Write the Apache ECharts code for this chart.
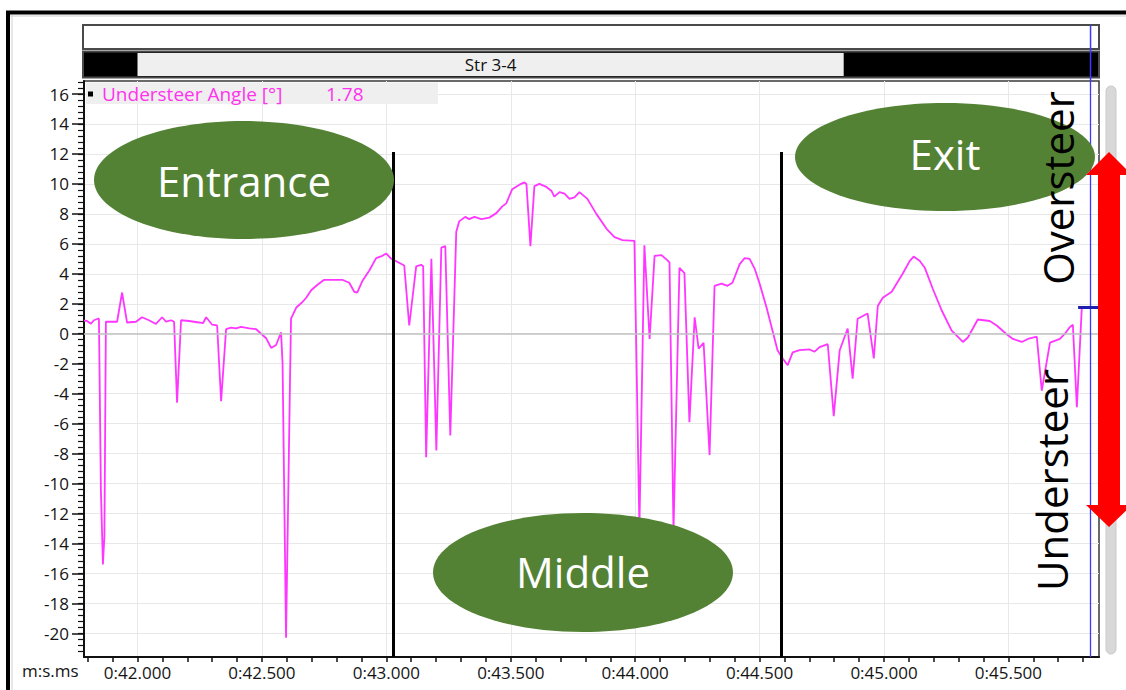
<!DOCTYPE html>
<html>
<head>
<meta charset="utf-8">
<title>Understeer Angle</title>
<script src="https://cdn.jsdelivr.net/npm/echarts@6/dist/echarts.min.js"></script>
<style>
  html, body { margin: 0; padding: 0; background: #fff; }
  #chart { width: 1126px; height: 690px; }
</style>
</head>
<body>
<div id="chart"></div>
<script>
// Lap time in seconds (m:s.ms axis) and logged understeer angle in degrees
const times = [
  41.785, 41.797, 41.813, 41.825, 41.841, 41.845, 41.853, 41.861, 41.867, 41.873,
  41.893, 41.918, 41.938, 41.958, 41.994, 42.018, 42.046, 42.074, 42.099, 42.115,
  42.135, 42.147, 42.159, 42.175, 42.207, 42.247, 42.263, 42.276, 42.300, 42.320,
  42.336, 42.356, 42.376, 42.396, 42.416, 42.449, 42.477, 42.497, 42.517, 42.537,
  42.557, 42.577, 42.583, 42.597, 42.613, 42.617, 42.638, 42.662, 42.678, 42.698,
  42.722, 42.750, 42.790, 42.823, 42.851, 42.871, 42.883, 42.903, 42.931, 42.959,
  42.984, 43.000, 43.020, 43.032, 43.072, 43.092, 43.120, 43.140, 43.148, 43.160,
  43.181, 43.201, 43.221, 43.237, 43.257, 43.281, 43.293, 43.317, 43.333, 43.354,
  43.382, 43.414, 43.442, 43.466, 43.482, 43.506, 43.535, 43.555, 43.563, 43.579,
  43.595, 43.615, 43.643, 43.663, 43.675, 43.696, 43.716, 43.736, 43.756, 43.776,
  43.808, 43.844, 43.885, 43.917, 43.949, 43.997, 44.017, 44.037, 44.058, 44.078,
  44.106, 44.130, 44.138, 44.154, 44.178, 44.198, 44.218, 44.239, 44.255, 44.275,
  44.299, 44.319, 44.347, 44.371, 44.391, 44.420, 44.440, 44.460, 44.480, 44.500,
  44.528, 44.552, 44.572, 44.593, 44.613, 44.633, 44.661, 44.701, 44.721, 44.741,
  44.774, 44.798, 44.822, 44.854, 44.874, 44.894, 44.934, 44.959, 44.975, 44.995,
  45.031, 45.051, 45.075, 45.103, 45.119, 45.144, 45.164, 45.196, 45.232, 45.272,
  45.317, 45.337, 45.377, 45.425, 45.453, 45.494, 45.518, 45.554, 45.578, 45.614,
  45.634, 45.667, 45.707, 45.727, 45.747, 45.759, 45.775, 45.795
];
const angles = [
  0.87, 0.85, 0.67, 0.90, 1.00, 1.00, -10.5, -15.4, -13.5, 0.80,
  0.80, 0.80, 2.75, 0.75, 0.80, 1.10, 0.90, 0.65, 1.10, 0.80,
  0.90, 0.80, -4.60, 0.90, 0.85, 0.75, 0.70, 1.10, 0.60, 0.55,
  -4.50, 0.30, 0.40, 0.35, 0.45, 0.35, 0.30, 0.00, -0.30, -0.95,
  -0.75, 0.10, -2.00, -20.3, -3.00, 1.00, 1.75, 2.10, 2.40, 2.90,
  3.25, 3.60, 3.60, 3.60, 3.40, 2.80, 2.75, 3.50, 4.20, 5.05,
  5.20, 5.35, 5.00, 4.90, 4.55, 0.55, 4.50, 4.60, 4.50, -8.25,
  5.00, -7.80, 5.75, 5.85, -6.80, 6.80, 7.50, 7.80, 7.65, 7.80,
  7.65, 7.75, 8.05, 8.50, 8.70, 9.65, 9.95, 10.10, 10.00, 5.85,
  9.85, 10.00, 9.80, 9.55, 9.15, 9.45, 9.35, 9.00, 9.10, 9.45,
  9.00, 8.00, 7.00, 6.45, 6.25, 6.20, -13.0, 5.90, -0.35, 5.20,
  5.25, 4.90, 4.75, -13.2, 4.40, 4.05, -5.90, 1.10, -1.00, -0.60,
  -8.10, 3.20, 3.35, 3.20, 3.40, 4.65, 5.05, 5.00, 4.35, 3.35,
  1.75, 0.20, -1.10, -1.65, -2.10, -1.25, -1.10, -1.05, -1.20, -0.90,
  -0.70, -5.50, -1.10, 0.35, -3.00, 1.00, 1.35, -1.65, 1.85, 2.40,
  2.80, 3.35, 4.00, 4.85, 5.15, 4.85, 4.40, 3.00, 1.55, 0.20,
  -0.55, -0.25, 0.95, 0.85, 0.55, -0.05, -0.35, -0.55, -0.35, -0.20,
  -3.80, -0.60, -0.35, 0.00, 0.45, 0.60, -4.90, 1.78
];

// Axis tick labels
const timeLabels = [42.0, 42.5, 43.0, 43.5, 44.0, 44.5, 45.0, 45.5];
const angleLabels = [-20, -18, -16, -14, -12, -10, -8, -6, -4, -2, 0, 2, 4, 6, 8, 10, 12, 14, 16];

// Visible window of the trace
const timeRange = [41.785, 45.864];
const angleRange = [-21.58, 16.87];

// Corner phase boundaries, sector span, cursor read-out
const phaseNames = ['Entrance', 'Middle', 'Exit'];
const phaseBounds = [43.028, 44.589];
const phaseLineTop = 12.13;
const sectorName = 'Str 3-4';
const sectorSpan = [42.0, 44.838];
const cursorTime = 45.830;
const cursorValue = 1.78;
const channelName = 'Understeer Angle [°]';
const steerLabels = ['Oversteer', 'Understeer'];

// Minor tick positions: every 0.1 s and every 0.4°
const timeMinor = [];
for (let k = 418; k <= 458; k++) timeMinor.push(k / 10);
const angleMinor = [];
for (let k = -54; k <= 42; k++) angleMinor.push(Math.round(k * 4) / 10);

const FONT = '"Open Sans", "Noto Sans", sans-serif';
const TRACE = '#ff36ff';
const GREEN = '#548235';

const chart = echarts.init(document.getElementById('chart'), null, { renderer: 'svg' });

const axisText = { color: '#141414', fontFamily: FONT, fontSize: 17 };

const option = {
  animation: false,
  backgroundColor: '#ffffff',
  grid: {
    left: 84, right: 27, top: 81, bottom: 33,
    show: true, backgroundColor: '#ffffff',
    borderColor: '#3a3a3a', borderWidth: 1.5,
    outerBoundsMode: 'none'
  },
  xAxis: [
    {
      type: 'value', position: 'bottom', min: timeRange[0], max: timeRange[1],
      axisLine: { show: true, onZero: false, lineStyle: { color: '#111', width: 2 } },
      axisTick: { show: false, customValues: timeLabels },
      axisLabel: Object.assign({ customValues: timeLabels, margin: 7,
        formatter: v => '0:' + v.toFixed(3) }, axisText),
      splitLine: { show: true, lineStyle: { color: '#e8e8e8', width: 1 } }
    },
    {
      type: 'value', position: 'bottom', offset: 0, min: timeRange[0], max: timeRange[1],
      axisLine: { show: false, onZero: false },
      axisTick: { show: true, customValues: timeMinor, length: 5, lineStyle: { color: '#111', width: 1.5 } },
      axisLabel: { show: false },
      splitLine: { show: false }
    }
  ],
  yAxis: [
    {
      type: 'value', position: 'left', min: angleRange[0], max: angleRange[1],
      axisLine: { show: true, onZero: false, lineStyle: { color: '#111', width: 2 } },
      axisTick: { show: true, customValues: angleLabels, length: 12, lineStyle: { color: '#111', width: 1.5 } },
      axisLabel: Object.assign({ customValues: angleLabels, margin: 15,
        formatter: v => String(v) }, axisText),
      splitLine: { show: true, lineStyle: { color: '#e8e8e8', width: 1 } }
    },
    {
      type: 'value', position: 'left', offset: 0, min: angleRange[0], max: angleRange[1],
      axisLine: { show: false, onZero: false },
      axisTick: { show: true, customValues: angleMinor, length: 6, lineStyle: { color: '#111', width: 1.2 } },
      axisLabel: { show: false },
      splitLine: { show: false }
    }
  ],
  series: [
    {
      // zero reference line under the trace
      type: 'line', data: [], z: 1, silent: true,
      markLine: {
        silent: true, symbol: ['none', 'none'], label: { show: false },
        lineStyle: { color: '#c2c2c2', width: 1.5, type: 'solid' },
        data: [{ yAxis: 0 }]
      }
    },
    {
      name: channelName, type: 'line', z: 3,
      data: times.map((t, i) => [t, angles[i]]),
      showSymbol: false, symbol: 'none',
      lineStyle: { color: TRACE, width: 1.8 },
      itemStyle: { color: TRACE }
    },
    {
      // phase boundaries and cursor
      type: 'line', data: [], z: 20, silent: true,
      markLine: {
        silent: true, symbol: ['none', 'none'], label: { show: false },
        data: [
          ...phaseBounds.map(b => [
            { coord: [b, phaseLineTop], lineStyle: { color: '#000', width: 3, type: 'solid' } },
            { coord: [b, angleRange[0]] }
          ]),
          [
            { coord: [cursorTime, angleRange[1]], lineStyle: { color: '#3a3aff', width: 1.3, type: 'solid' } },
            { coord: [cursorTime, angleRange[0]] }
          ],
          [
            { coord: [cursorTime - 0.05, cursorValue], lineStyle: { color: '#1e1eb0', width: 3, type: 'solid' } },
            { coord: [timeRange[1], cursorValue] }
          ]
        ]
      }
    }
  ]
};

chart.setOption(option);

const px = t => chart.convertToPixel({ xAxisIndex: 0 }, t);
const sx0 = px(sectorSpan[0]);
const sx1 = px(sectorSpan[1]);
const cx = px(cursorTime);

function phaseBubble(name, cxp, cyp, rx, ry, ty) {
  return [
    { type: 'ellipse', z: 10, silent: true, shape: { cx: cxp, cy: cyp, rx: rx, ry: ry },
      style: { fill: GREEN } },
    { type: 'text', z: 11, silent: true,
      style: { text: name, x: cxp, y: ty, fill: '#ffffff', font: '42px ' + FONT,
        textAlign: 'center', textVerticalAlign: 'middle' } }
  ];
}

const graphics = [
  // outer window frame
  { type: 'line', z: 40, silent: true, shape: { x1: 6, y1: 12.5, x2: 1126, y2: 12.5 },
    style: { stroke: '#000', lineWidth: 4 } },
  { type: 'line', z: 40, silent: true, shape: { x1: 8, y1: 11, x2: 8, y2: 690 },
    style: { stroke: '#000', lineWidth: 4 } },
  { type: 'line', z: 40, silent: true, shape: { x1: 10, y1: 16, x2: 1126, y2: 16 },
    style: { stroke: '#cfcfcf', lineWidth: 1 } },
  { type: 'line', z: 40, silent: true, shape: { x1: 12, y1: 15, x2: 12, y2: 690 },
    style: { stroke: '#cfcfcf', lineWidth: 1 } },

  // overview strip and sector bar
  { type: 'rect', z: 5, silent: true, shape: { x: 83, y: 25, width: 1016, height: 24 },
    style: { fill: '#ffffff', stroke: '#4a4a4a', lineWidth: 2 } },
  { type: 'rect', z: 5, silent: true, shape: { x: 83, y: 51.5, width: 1016, height: 26 },
    style: { fill: '#000000', stroke: '#4a4a4a', lineWidth: 2 } },
  { type: 'rect', z: 6, silent: true, shape: { x: sx0, y: 53, width: sx1 - sx0, height: 23 },
    style: { fill: '#efefef' } },
  { type: 'text', z: 7, silent: true,
    style: { text: sectorName, x: (sx0 + sx1) / 2, y: 64.5, fill: '#111', font: '17px ' + FONT,
      textAlign: 'center', textVerticalAlign: 'middle' } },
  { type: 'line', z: 8, silent: true, shape: { x1: cx, y1: 25, x2: cx, y2: 81 },
    style: { stroke: '#3a3aff', lineWidth: 1.5 } },

  // channel legend with cursor read-out
  { type: 'rect', z: 4, silent: true, shape: { x: 86, y: 82.5, width: 352, height: 21.5 },
    style: { fill: '#efefef' } },
  { type: 'rect', z: 5, silent: true, shape: { x: 88, y: 91.5, width: 5, height: 5 },
    style: { fill: '#000' } },
  { type: 'text', z: 5, silent: true,
    style: { text: channelName, x: 102, y: 94, fill: '#ff33ee', font: '19px ' + FONT,
      textAlign: 'left', textVerticalAlign: 'middle' } },
  { type: 'text', z: 5, silent: true,
    style: { text: cursorValue.toFixed(2), x: 326, y: 94, fill: '#ff33ee', font: '19px ' + FONT,
      textAlign: 'left', textVerticalAlign: 'middle' } },

  // axis unit
  { type: 'text', z: 5, silent: true,
    style: { text: 'm:s.ms', x: 22, y: 670, fill: '#141414', font: '17px ' + FONT,
      textAlign: 'left', textVerticalAlign: 'middle' } },

  // vertical scrollbar
  { type: 'rect', z: 5, silent: true, shape: { x: 1106, y: 86, width: 10, height: 568, r: 5 },
    style: { fill: '#d8d8d8', stroke: '#cacaca', lineWidth: 1 } },

  // corner phases
  ...phaseBubble(phaseNames[0], 244, 180, 150, 59, 180),
  ...phaseBubble(phaseNames[1], 583, 572.5, 150, 59.5, 571),
  ...phaseBubble(phaseNames[2], 945, 157, 150, 54, 153),

  // balance direction arrow
  { type: 'polygon', z: 30, silent: true,
    shape: { points: [[1109, 152], [1132, 175], [1120, 175], [1120, 505], [1132, 505],
      [1109, 527], [1086, 505], [1098, 505], [1098, 175], [1086, 175]] },
    style: { fill: '#ff0000' } },
  { type: 'text', z: 25, silent: true, x: 1057, y: 188, rotation: Math.PI / 2,
    style: { text: steerLabels[0], x: 0, y: 0, fill: '#000', font: '42px ' + FONT,
      textAlign: 'center', textVerticalAlign: 'middle' } },
  { type: 'text', z: 25, silent: true, x: 1051, y: 480, rotation: Math.PI / 2,
    style: { text: steerLabels[1], x: 0, y: 0, fill: '#000', font: '42px ' + FONT,
      textAlign: 'center', textVerticalAlign: 'middle' } }
];

chart.setOption({ graphic: graphics });
</script>
</body>
</html>
